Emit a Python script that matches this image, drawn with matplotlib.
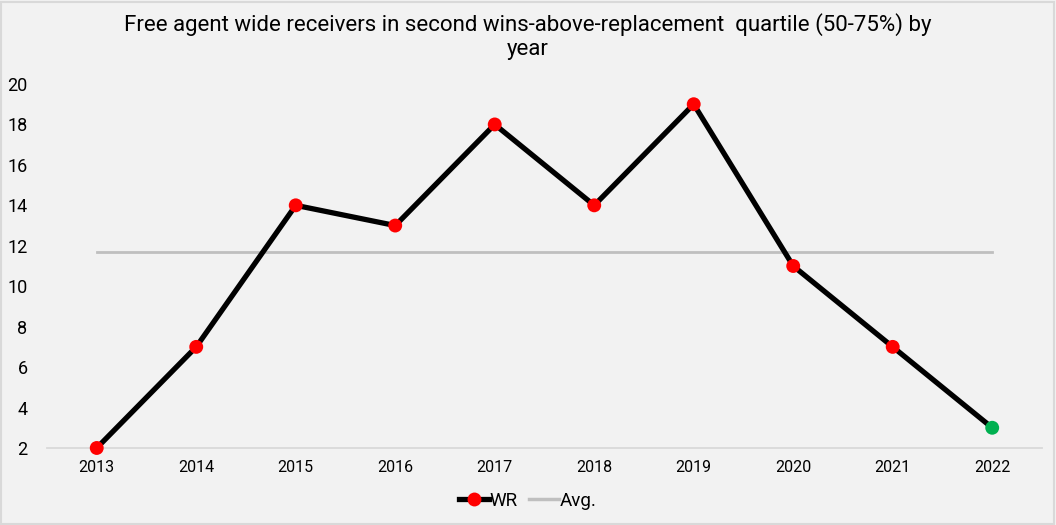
import matplotlib.pyplot as plt
from matplotlib.lines import Line2D
from matplotlib.patches import Rectangle

years = ['2013', '2014', '2015', '2016', '2017', '2018', '2019', '2020', '2021', '2022']
wr_counts = [2, 7, 14, 13, 18, 14, 19, 11, 7, 3]
avg_value = 11.67
marker_colors = ['#ff0000'] * 9 + ['#00b050']

plt.rcParams['font.family'] = ['Roboto', 'DejaVu Sans']

fig = plt.figure(figsize=(10.56, 5.25), dpi=100, facecolor='#f2f2f2')
ax = fig.add_axes([0.0445, 0.1467, 0.9422, 0.6933])
ax.set_facecolor('#f2f2f2')

# border round the whole chart
fig.patches.append(Rectangle((0.001, 0.001), 0.997, 0.996, transform=fig.transFigure,
                             fill=False, edgecolor='#d9d9d9', linewidth=1.5))

x = list(range(len(years)))
ax.plot(x, [avg_value] * len(x), color='#bfbfbf', linewidth=2, zorder=2)
ax.plot(x, wr_counts, color='black', linewidth=3.8, zorder=3, clip_on=False)
ax.scatter(x, wr_counts, s=100, c=marker_colors, zorder=4, linewidths=0, clip_on=False)

ax.set_xlim(-0.5, len(years) - 0.5)
ax.set_ylim(2, 20)
ax.set_yticks(range(2, 21, 2))
ax.set_xticks(x)
ax.set_xticklabels(years)
ax.tick_params(axis='y', length=0, labelsize=13, pad=14)
ax.tick_params(axis='x', length=0, labelsize=11.5, pad=9)

for s in ['top', 'right', 'left']:
    ax.spines[s].set_visible(False)
ax.spines['bottom'].set_color('#d9d9d9')
ax.spines['bottom'].set_linewidth(1.3)
ax.spines['bottom'].set_zorder(1)

fig.text(0.5, 0.975, 'Free agent wide receivers in second wins-above-replacement  quartile (50-75%) by\nyear',
         ha='center', va='top', fontsize=16, linespacing=1.15)

handles = [
    Line2D([], [], color='black', linewidth=3.8, marker='o', markersize=10,
           markerfacecolor='#ff0000', markeredgewidth=0),
    Line2D([], [], color='#bfbfbf', linewidth=2.5),
]
fig.legend(handles, ['WR', 'Avg.'], loc='center', bbox_to_anchor=(0.5, 0.046), ncol=2,
           frameon=False, fontsize=13.5, handlelength=1.6, handletextpad=0.05, columnspacing=0.6)

fig.savefig('out.png', dpi=100, facecolor=fig.get_facecolor())
